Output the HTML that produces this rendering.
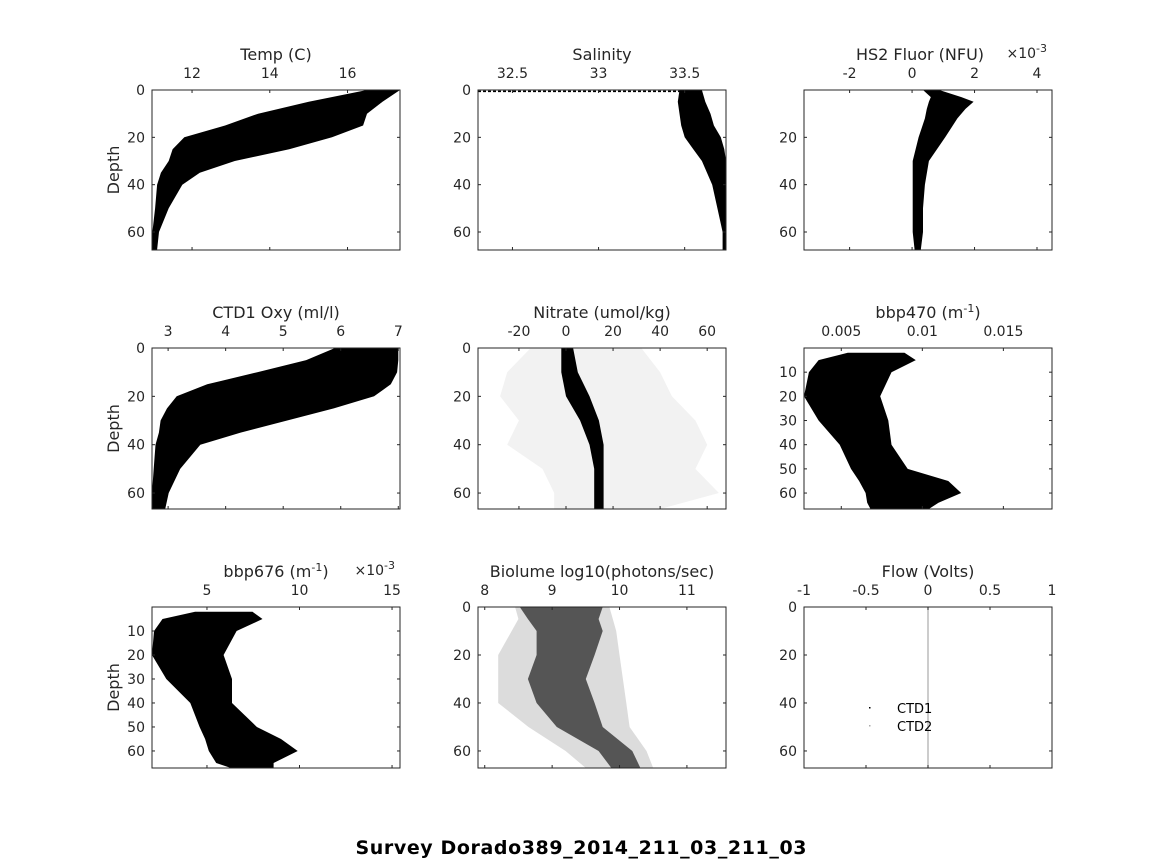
<!DOCTYPE html>
<html><head><meta charset="utf-8"><style>
html,body{margin:0;padding:0;background:#fff;}
svg{display:block;font-family:"DejaVu Sans","Liberation Sans",sans-serif;}
</style></head><body>
<svg id="fig" width="1164" height="864" viewBox="0 0 1164 864" xmlns="http://www.w3.org/2000/svg">
<rect width="1164" height="864" fill="#fff"/>
<text x="581" y="854" text-anchor="middle" font-weight="bold" font-size="19" textLength="451" fill="#000">Survey Dorado389_2014_211_03_211_03</text>
</svg>
<script>
// ---- data arrays (depth vs envelope of observed values) ----
const tempDepth=[0,5,10,15,20,25,30,35,40,50,60,67.5];
const tempLo=[16.5,15.0,13.7,12.85,11.8,11.5,11.4,11.2,11.1,11.05,10.98,10.97];
const tempHi=[17.35,16.9,16.5,16.4,15.6,14.5,13.1,12.2,11.75,11.4,11.15,11.1];
const tempTicks=[12,14,16];

const salDepth=[0,5,10,15,20,25,30,40,50,60,67.5];
const salLo=[33.47,33.46,33.47,33.48,33.50,33.55,33.60,33.66,33.69,33.72,33.72];
const salHi=[33.60,33.62,33.65,33.67,33.71,33.73,33.74,33.74,33.74,33.74,33.74];
const salTicks=[32.5,33,33.5];
const salSurface=[32.30,33.47];

const fluDepth=[0,3,5,8,12,20,30,40,50,60,67.5];
const fluLo=[0.35,0.6,0.54,0.47,0.41,0.21,0.02,0.02,0.02,0.02,0.08];
const fluHi=[0.87,1.58,1.97,1.71,1.45,1.06,0.54,0.41,0.35,0.35,0.28];
const fluTicks=[-2,0,2,4];

const oxyDepth=[0,5,10,15,20,25,30,35,40,50,60,66.6];
const oxyLo=[5.9,5.4,4.55,3.68,3.15,2.98,2.87,2.84,2.78,2.75,2.72,2.72];
const oxyHi=[7.0,7.0,6.98,6.87,6.58,5.88,5.07,4.26,3.56,3.21,3.01,2.95];
const oxyTicks=[3,4,5,6,7];

const nitDepth=[0,10,20,30,40,50,60,66.6];
const nitLo=[-2,-2,0,6,10,12,12,12];
const nitHi=[3,5,10,14,16,16,16,16];
const nitOutLo=[-15,-25,-28,-20,-25,-10,-5,-5];
const nitOutHi=[32,40,45,55,60,55,65,40];
const nitTicks=[-20,0,20,40,60];

const b47Depth=[2,5,10,20,30,40,50,55,60,64,66.6];
const b47Lo=[0.0054,0.0036,0.003,0.0027,0.0036,0.0049,0.0056,0.0061,0.0065,0.0066,0.0068];
const b47Hi=[0.0089,0.0096,0.0081,0.0074,0.0079,0.0081,0.0091,0.0116,0.0124,0.011,0.0104];
const b47Ticks=[0.005,0.01,0.015];
const b47DepthTicks=[10,20,30,40,50,60];

const b67Depth=[2,5,10,20,30,40,50,55,60,65,67.1];
const b67Lo=[4.36,2.6,2.14,2.03,2.8,4.1,4.6,4.9,5.1,5.5,6.3];
const b67Hi=[7.46,8.0,6.6,5.9,6.35,6.35,7.7,9.0,9.9,8.6,8.6];
const b67Ticks=[5,10,15];

const bioDepth=[0,5,10,20,30,40,50,60,67.1];
const bioLo=[8.52,8.64,8.77,8.77,8.64,8.77,9.07,9.69,9.88];
const bioHi=[9.75,9.69,9.75,9.63,9.5,9.63,9.75,10.19,10.31];
const bioOutLo=[8.45,8.5,8.4,8.2,8.2,8.2,8.65,9.2,9.5];
const bioOutHi=[9.85,9.9,9.95,10.0,10.05,10.1,10.15,10.4,10.5];
const bioTicks=[8,9,10,11];

const flowTicks=[-1,-0.5,0,0.5,1];
const flowLine=[0];
const depthTicks=[0,20,40,60];

// ---- drawing ----
const NS="http://www.w3.org/2000/svg";
const svg=document.getElementById('fig');
function mk(tag,attrs,parent){const e=document.createElementNS(NS,tag);for(const k in attrs)e.setAttribute(k,attrs[k]);(parent||svg).appendChild(e);return e;}
function fmt(v){return String(v);}

function panel(cfg){
  const g=mk('g',{});
  
  
  const L=cfg.x0,R=cfg.x1,T=cfg.y0,B=cfg.y1;
  const sx=v=>L+(v-cfg.xmin)/(cfg.xmax-cfg.xmin)*(R-L);
  const sy=d=>T+(d-cfg.dmin)/(cfg.dmax-cfg.dmin)*(B-T);
  const clip='clip-'+cfg.name;
  const cp=mk('clipPath',{id:clip},g);mk('rect',{x:L,y:T,width:R-L,height:B-T},cp);
  const dg=mk('g',{'clip-path':'url(#'+clip+')'},g);
  (cfg.bands||[]).forEach(b=>{
    let pts=[];
    b.depth.forEach((d,i)=>pts.push(sx(b.lo[i]).toFixed(1)+','+sy(d).toFixed(1)));
    for(let i=b.depth.length-1;i>=0;i--)pts.push(sx(b.hi[i]).toFixed(1)+','+sy(b.depth[i]).toFixed(1));
    const p=mk('polygon',{points:pts.join(' '),fill:b.fill},dg);
    
    
  });
  if(cfg.extra)cfg.extra(dg,sx,sy);
  const box=mk('rect',{x:L,y:T,width:R-L,height:B-T,fill:'none',stroke:'#262626','stroke-width':1},g);
  
  
  cfg.xticks.forEach(v=>{
    const x=sx(v);
    mk('line',{x1:x,y1:T,x2:x,y2:T+3,stroke:'#262626'},g);
    mk('line',{x1:x,y1:B,x2:x,y2:B-3,stroke:'#262626'},g);
    const t=mk('text',{x:x,y:T-12,'text-anchor':'middle','font-size':14,fill:'#262626'},g);
    t.textContent=cfg.xfmt?cfg.xfmt(v):fmt(v);
    
    
  });
  cfg.yticks.forEach(d=>{
    const y=sy(d);
    mk('line',{x1:L,y1:y,x2:L+3,y2:y,stroke:'#262626'},g);
    mk('line',{x1:R,y1:y,x2:R-3,y2:y,stroke:'#262626'},g);
    const t=mk('text',{x:L-7,y:y+5,'text-anchor':'end','font-size':14,fill:'#262626'},g);
    t.textContent=fmt(d);
    
    
  });
  const tt=mk('text',{x:cfg.tx||(L+R)/2,y:T-30,'text-anchor':'middle','font-size':16,fill:'#262626'},g);
  tt.innerHTML=cfg.title;
  
  
  if(cfg.exp){
    const e=mk('text',{x:R-5,y:T-32,'text-anchor':'end','font-size':14,fill:'#262626'},g);
    e.innerHTML='×10<tspan dy="-6" font-size="11">-3</tspan>';
    
    
  }
  if(cfg.ylabel){
    const cy=(T+B)/2;
    const yl=mk('text',{x:0,y:0,'text-anchor':'middle','font-size':16,fill:'#262626',transform:'translate(119,'+cy+') rotate(-90)'},g);
    yl.textContent='Depth';
    
    
  }
}
const C1=[152,400],C2=[478,726],C3=[804,1052];
const R1=[90,250],R2=[348,509],R3=[607,768];

panel({name:'temp',x0:C1[0],x1:C1[1],y0:R1[0],y1:R1[1],xmin:10.97,xmax:17.35,dmin:0,dmax:67.6,
  xticks:tempTicks,yticks:depthTicks,title:'Temp (C)',ylabel:true,
  bands:[{depth:tempDepth,lo:tempLo,hi:tempHi,fill:'#000',label:'profiles'}]});
panel({name:'salinity',x0:C2[0],x1:C2[1],y0:R1[0],y1:R1[1],xmin:32.30,xmax:33.74,dmin:0,dmax:67.6,
  xticks:salTicks,yticks:depthTicks,title:'Salinity',
  bands:[{depth:salDepth,lo:salLo,hi:salHi,fill:'#000',label:'profiles'}],
  extra:(g,sx,sy)=>{const l=mk('line',{x1:sx(salSurface[0]),x2:sx(salSurface[1]),y1:sy(0.6),y2:sy(0.6),stroke:'#000','stroke-width':1.5,'stroke-dasharray':'3 2'},g);
    }});
panel({name:'fluor',x0:C3[0],x1:C3[1],y0:R1[0],y1:R1[1],xmin:-3.46,xmax:4.48,dmin:0,dmax:67.6,
  xticks:fluTicks,yticks:[20,40,60],title:'HS2 Fluor (NFU)',tx:920,exp:true,
  bands:[{depth:fluDepth,lo:fluLo,hi:fluHi,fill:'#000',label:'profiles'}]});

panel({name:'oxygen',x0:C1[0],x1:C1[1],y0:R2[0],y1:R2[1],xmin:2.72,xmax:7.03,dmin:0,dmax:66.6,
  xticks:oxyTicks,yticks:depthTicks,title:'CTD1 Oxy (ml/l)',ylabel:true,
  bands:[{depth:oxyDepth,lo:oxyLo,hi:oxyHi,fill:'#000',label:'profiles'}]});
panel({name:'nitrate',x0:C2[0],x1:C2[1],y0:R2[0],y1:R2[1],xmin:-37.4,xmax:68,dmin:0,dmax:66.6,
  xticks:nitTicks,yticks:depthTicks,title:'Nitrate (umol/kg)',
  bands:[{depth:nitDepth,lo:nitOutLo,hi:nitOutHi,fill:'#f2f2f2',label:'sparse-points'},
         {depth:nitDepth,lo:nitLo,hi:nitHi,fill:'#000',label:'profiles'}]});
panel({name:'bbp470',x0:C3[0],x1:C3[1],y0:R2[0],y1:R2[1],xmin:0.0027,xmax:0.018,dmin:0,dmax:66.6,
  xticks:b47Ticks,yticks:b47DepthTicks,title:'bbp470 (m<tspan dy="-6" font-size="11">-1</tspan><tspan dy="6">)</tspan>',
  bands:[{depth:b47Depth,lo:b47Lo,hi:b47Hi,fill:'#000',label:'profiles'}]});

panel({name:'bbp676',x0:C1[0],x1:C1[1],y0:R3[0],y1:R3[1],xmin:2.03,xmax:15.43,dmin:0,dmax:67.1,
  xticks:b67Ticks,yticks:b47DepthTicks,title:'bbp676 (m<tspan dy="-6" font-size="11">-1</tspan><tspan dy="6">)</tspan>',tx:276,exp:true,ylabel:true,
  bands:[{depth:b67Depth,lo:b67Lo,hi:b67Hi,fill:'#000',label:'profiles'}]});
panel({name:'biolume',x0:C2[0],x1:C2[1],y0:R3[0],y1:R3[1],xmin:7.9,xmax:11.58,dmin:0,dmax:67.1,
  xticks:bioTicks,yticks:depthTicks,title:'Biolume log10(photons/sec)',
  bands:[{depth:bioDepth,lo:bioOutLo,hi:bioOutHi,fill:'#dcdcdc',label:'sparse-points'},
         {depth:bioDepth,lo:bioLo,hi:bioHi,fill:'#555',label:'profiles'}]});
panel({name:'flow',x0:C3[0],x1:C3[1],y0:R3[0],y1:R3[1],xmin:-1,xmax:1,dmin:0,dmax:67.1,
  xticks:flowTicks,yticks:depthTicks,title:'Flow (Volts)',
  extra:(g,sx,sy)=>{flowLine.forEach(v=>{const l=mk('line',{x1:sx(v),x2:sx(v),y1:sy(0),y2:sy(67.1),stroke:'#aaa','stroke-width':1.2},g);
    });}});
const lg=mk('g',{});


mk('rect',{x:869,y:707,width:1.5,height:1.5,fill:'#000'},lg);
mk('rect',{x:869,y:725,width:1.5,height:1.5,fill:'#aaa'},lg);
const l1=mk('text',{x:897,y:713,'font-size':13,fill:'#000'},lg);l1.textContent='CTD1';


const l2=mk('text',{x:897,y:731,'font-size':13,fill:'#000'},lg);l2.textContent='CTD2';


</script>
</body></html>
